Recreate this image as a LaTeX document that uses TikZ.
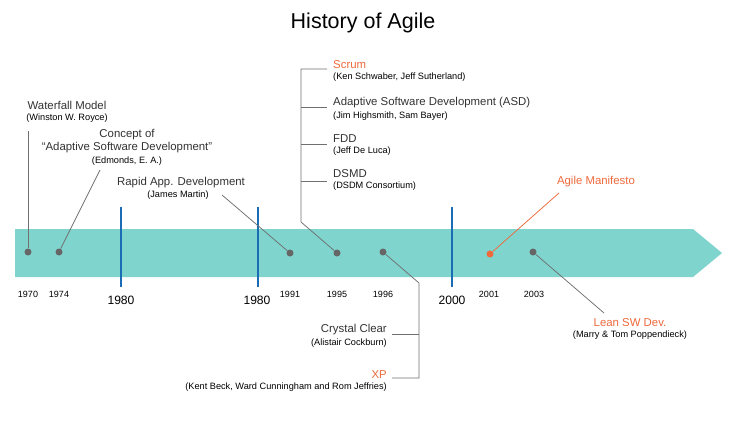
\documentclass[tikz,border=0pt]{standalone}
\usepackage{fontspec}
\setmainfont{Liberation Sans}
\definecolor{band}{HTML}{7FD4CE}
\definecolor{bluec}{HTML}{1A6DB5}
\definecolor{orangec}{HTML}{EE6A3C}
\definecolor{txt}{HTML}{333333}
\definecolor{linec}{HTML}{707070}
\definecolor{dotc}{HTML}{666666}
\tikzset{
 lbl/.style={font=\fontsize{11.4}{13}\selectfont, text=txt, inner sep=0pt},
 sub/.style={font=\fontsize{9.2}{11}\selectfont, text=black, inner sep=0pt},
 yr/.style={font=\fontsize{9}{10}\selectfont, text=black, inner sep=0pt},
 bigyr/.style={font=\fontsize{12.1}{14}\selectfont, text=black, inner sep=0pt},
 dot/.style={circle, fill=dotc, minimum size=7pt, inner sep=0pt},
 odot/.style={circle, fill=orangec, minimum size=7pt, inner sep=0pt},
 con/.style={draw=linec, line width=0.75pt},
 ocon/.style={draw=orangec, line width=0.75pt},
 era/.style={draw=bluec, line width=2.8pt},
}
\begin{document}
\begin{tikzpicture}[x=1pt,y=-1pt]
\useasboundingbox[fill=white] (0,0) rectangle (734,432);
% title
\node[font=\fontsize{21.5}{24}\selectfont, inner sep=0pt] (title) at (363,23) {History of Agile};
% band
\fill[band] (15,229) -- (693,229) -- (722,253) -- (693,277) -- (15,277) -- cycle;
% era lines
\coordinate (e1t) at (121,207); \coordinate (e1b) at (121,287);
\coordinate (e2t) at (258,207); \coordinate (e2b) at (258,287);
\coordinate (e3t) at (452,207); \coordinate (e3b) at (452,287);
\draw[era] (e1t) -- (e1b);
\draw[era] (e2t) -- (e2b);
\draw[era] (e3t) -- (e3b);
% dots
\node[dot] (d1970) at (28,252) {};
\node[dot] (d1974) at (59,252) {};
\node[dot] (d1991) at (290,253) {};
\node[dot] (d1995) at (337,253) {};
\node[dot] (d1996) at (383,252) {};
\node[odot] (d2001) at (490,254) {};
\node[dot] (d2003) at (533,252) {};
% years
\node[yr] (y1970) at (28,294) {1970};
\node[yr] (y1974) at (59,294) {1974};
\node[yr] (y1991) at (290,294) {1991};
\node[yr] (y1995) at (337,294) {1995};
\node[yr] (y1996) at (383,294) {1996};
\node[yr] (y2001) at (489,294) {2001};
\node[yr] (y2003) at (534,294) {2003};
\node[bigyr] (b1980a) at (121,300) {1980};
\node[bigyr] (b1980b) at (257,300) {1980};
\node[bigyr] (b2000) at (452,300) {2000};
% Waterfall
\node[lbl] (wf) at (67,105) {Waterfall Model};
\node[sub] (wfs) at (67,118) {(Winston W. Royce)};
\coordinate (wfc) at (28,131);
\draw[con] (wfc) -- (d1970);
% Concept
\node[lbl] (cc1) at (127,135) {Concept of};
\node[lbl] (cc2) at (127,148) {“Adaptive Software Development"};
\node[sub] (ccs) at (127,161) {(Edmonds, E. A.)};
\coordinate (ccc) at (100,170);
\draw[con] (ccc) -- (d1974);
% Rapid
\node[lbl] (rad) at (181,183) {Rapid App. Development};
\node[sub] (rads) at (178,195) {(James Martin)};
\coordinate (radc) at (222,195);
\draw[con] (radc) -- (d1991);
% 1995 group
\node[lbl, text=orangec, anchor=west] (scrum) at (333,65) {Scrum};
\node[sub, anchor=west] (scrums) at (333,77) {(Ken Schwaber, Jeff Sutherland)};
\node[lbl, anchor=west] (asd) at (333,103) {Adaptive Software Development (ASD)};
\node[sub, anchor=west] (asds) at (333,116) {(Jim Highsmith, Sam Bayer)};
\node[lbl, anchor=west] (fdd) at (333,139) {FDD};
\node[sub, anchor=west] (fdds) at (333,151) {(Jeff De Luca)};
\node[lbl, anchor=west] (dsmd) at (333,174) {DSMD};
\node[sub, anchor=west] (dsmds) at (333,186) {(DSDM Consortium)};
\coordinate (g1a) at (327,69); \coordinate (g1t) at (301,69);
\coordinate (g1bot) at (301,222);
\coordinate (g2a) at (301,107); \coordinate (g2b) at (327,107);
\coordinate (g3a) at (301,144); \coordinate (g3b) at (327,144);
\coordinate (g4a) at (301,181); \coordinate (g4b) at (327,181);
\draw[con] (g1a) -- (g1t) -- (g1bot) -- (d1995);
\draw[con] (g2a) -- (g2b);
\draw[con] (g3a) -- (g3b);
\draw[con] (g4a) -- (g4b);
% 1996 group
\node[lbl, anchor=east] (cry) at (387,330) {Crystal Clear};
\node[sub, anchor=east] (crys) at (387,343) {(Alistair Cockburn)};
\node[lbl, text=orangec, anchor=east] (xp) at (387,375) {XP};
\node[sub, anchor=east] (xps) at (387,387) {(Kent Beck, Ward Cunningham and Rom Jeffries)};
\coordinate (h1) at (419,283); \coordinate (h2) at (419,378); \coordinate (h3) at (392,378);
\coordinate (h4) at (419,334); \coordinate (h5) at (392,334);
\draw[con] (d1996) -- (h1) -- (h2) -- (h3);
\draw[con] (h4) -- (h5);
% Agile Manifesto
\node[lbl, text=orangec] (am) at (596,182) {Agile Manifesto};
\coordinate (amc) at (559,193);
\draw[ocon] (amc) -- (d2001);
% Lean
\node[lbl, text=orangec] (lean) at (630,323) {Lean SW Dev.};
\node[sub] (leans) at (630,335) {(Marry \& Tom Poppendieck)};
\coordinate (leanc) at (604,313);
\draw[con] (d2003) -- (leanc);
\end{tikzpicture}
\end{document}
